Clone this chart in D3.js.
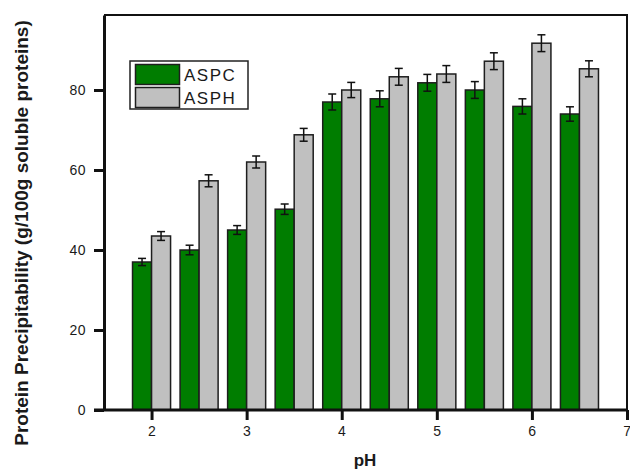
<!DOCTYPE html>
<html>
<head>
<meta charset="utf-8">
<script src="https://cdn.jsdelivr.net/npm/d3@7"></script>
<style>
  body { margin: 0; background: #fff; }
  svg text { font-family: "Liberation Sans", Arial, sans-serif; fill: #1a1a1a; }
</style>
</head>
<body>
<div id="container"></div>
<script>
const W = 630;
const H = 471;

// pH values of each pair of bars
const phValues = [2, 2.5, 3, 3.5, 4, 4.5, 5, 5.5, 6, 6.5];
const aspc = [37, 40, 45, 50.2, 77, 77.8, 81.8, 80, 75.9, 74];
const aspcErr = [0.9, 1.2, 1.1, 1.3, 2, 2, 2.1, 2.1, 1.9, 1.8];
const asph = [43.5, 57.3, 62, 68.8, 80, 83.3, 84, 87.2, 91.7, 85.3];
const asphErr = [1.1, 1.5, 1.5, 1.6, 1.9, 2.1, 2.1, 2.1, 2.1, 2];
const xTicks = [2, 3, 4, 5, 6, 7];
const yTicks = [0, 20, 40, 60, 80];
const seriesNames = ["ASPC", "ASPH"];
const colors = ["#007d00", "#c0c0c0"];

const margin = { top: 15, right: 3, bottom: 61, left: 104 };
const barW = 0.2; // in pH units

const svg = d3.select("#container")
  .append("svg")
  .attr("width", W)
  .attr("height", H);

const xScale = d3.scaleLinear()
  .domain([1.5, 7])
  .range([margin.left, W - margin.right]);

const yScale = d3.scaleLinear()
  .domain([0, 98.75])
  .range([H - margin.bottom, margin.top]);

const series = [
  { name: seriesNames[0], values: aspc, err: aspcErr, offset: -barW, color: colors[0] },
  { name: seriesNames[1], values: asph, err: asphErr, offset: 0, color: colors[1] }
];

// bars
series.forEach((s) => {
  const g = svg.append("g");
  g.selectAll("rect")
    .data(phValues)
    .join("rect")
    .attr("x", (d) => xScale(d + s.offset))
    .attr("width", xScale(d3.min(phValues) + barW) - xScale(d3.min(phValues)))
    .attr("y", (d, i) => yScale(s.values[i]))
    .attr("height", (d, i) => yScale(0) - yScale(s.values[i]))
    .attr("fill", s.color)
    .attr("stroke", "#1e1e1e")
    .attr("stroke-width", 1.5);

  // error bars
  const eb = g.selectAll(".err")
    .data(phValues)
    .join("g")
    .attr("class", "err")
    .attr("stroke", "#111")
    .attr("stroke-width", 1.5);
  const cx = (d) => xScale(d + s.offset + barW / 2);
  eb.append("line")
    .attr("x1", cx).attr("x2", cx)
    .attr("y1", (d, i) => yScale(s.values[i] - s.err[i]))
    .attr("y2", (d, i) => yScale(s.values[i] + s.err[i]));
  [-1, 1].forEach((sign) => {
    eb.append("line")
      .attr("x1", (d) => cx(d) - 4).attr("x2", (d) => cx(d) + 4)
      .attr("y1", (d, i) => yScale(s.values[i] + sign * s.err[i]))
      .attr("y2", (d, i) => yScale(s.values[i] + sign * s.err[i]));
  });
});

// frame top and right
svg.append("path")
  .attr("d", `M${xScale(1.5)},${yScale(98.75)}H${xScale(7)}V${yScale(0)}`)
  .attr("fill", "none")
  .attr("stroke", "#111")
  .attr("stroke-width", 2);

// axes
const xAxis = svg.append("g")
  .attr("transform", `translate(0,${yScale(0)})`)
  .call(d3.axisBottom(xScale).tickValues(xTicks).tickFormat(d3.format("d"))
    .tickSize(10).tickPadding(6).tickSizeOuter(0));
const yAxis = svg.append("g")
  .attr("transform", `translate(${xScale(1.5)},0)`)
  .call(d3.axisLeft(yScale).tickValues(yTicks).tickFormat(d3.format("d"))
    .tickSize(10).tickPadding(8).tickSizeOuter(0));

[xAxis, yAxis].forEach((ax) => {
  ax.select(".domain").attr("stroke", "#111").attr("stroke-width", 3);
  ax.selectAll(".tick line").attr("stroke", "#111").attr("stroke-width", 3);
  ax.selectAll(".tick text")
    .attr("font-size", 14)
    .attr("letter-spacing", 0.5)
    .attr("font-family", "'Liberation Sans', Arial, sans-serif")
    .attr("fill", "#1a1a1a");
});
xAxis.select(".domain").attr("d", `M${xScale(1.5) - 10},0H${xScale(7)}`);

// axis titles
svg.append("text")
  .attr("x", 365)
  .attr("y", 466)
  .attr("text-anchor", "middle")
  .attr("font-size", 17)
  .attr("font-weight", "bold")
  .text("pH");

svg.append("text")
  .attr("transform", `translate(28,233) rotate(-90)`)
  .attr("text-anchor", "middle")
  .attr("font-size", 19)
  .attr("font-weight", "bold")
  .text("Protein Precipitability (g/100g soluble proteins)");

// legend
const legend = svg.append("g").attr("transform", "translate(130,61)");
legend.append("rect")
  .attr("width", 118).attr("height", 48)
  .attr("fill", "#fff").attr("stroke", "#222").attr("stroke-width", 1.5);
series.forEach((s, i) => {
  legend.append("rect")
    .attr("x", 5.5).attr("y", 3.5 + i * 23)
    .attr("width", 44).attr("height", 20)
    .attr("fill", s.color).attr("stroke", "#1e1e1e").attr("stroke-width", 1.5);
  legend.append("text")
    .attr("x", 54).attr("y", 20 + i * 23)
    .attr("font-size", 17)
    .attr("letter-spacing", 1.5)
    .text(s.name);
});
</script>
</body>
</html>
